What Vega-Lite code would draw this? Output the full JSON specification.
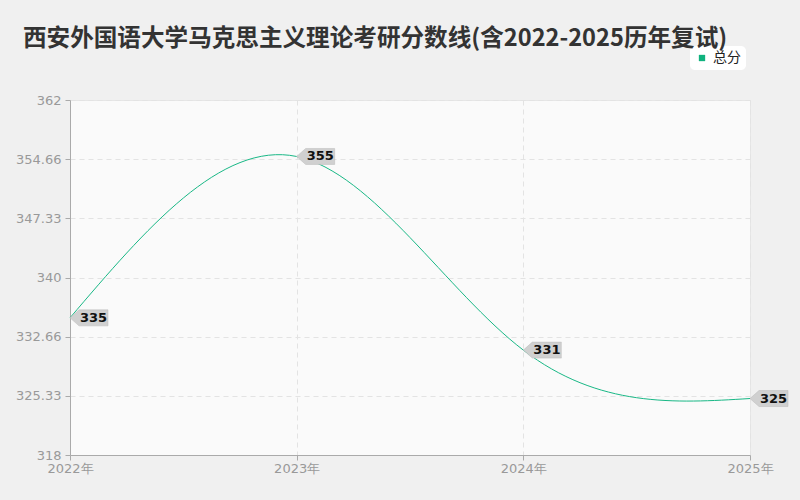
{
  "$schema": "https://vega.github.io/schema/vega-lite/v6.json",
  "width": 680,
  "height": 355,
  "autosize": {"type": "none"},
  "padding": {"left": 70, "top": 100, "right": 50, "bottom": 45},
  "background": "#f0f0f0",
  "title": {
    "text": "西安外国语大学马克思主义理论考研分数线(含2022-2025历年复试)",
    "anchor": "start",
    "frame": "group",
    "dx": -47,
    "offset": -5,
    "font": "Noto Sans CJK SC",
    "fontSize": 23.6,
    "fontWeight": "bold",
    "color": "#333333"
  },
  "config": {
    "view": {"fill": "#fafafa", "stroke": "#e6e6e6"},
    "font": "DejaVu Sans"
  },
  "data": {
    "values": [
      {"year": 2022, "score": 335, "series": "总分"},
      {"year": 2023, "score": 355, "series": "总分"},
      {"year": 2024, "score": 331, "series": "总分"},
      {"year": 2025, "score": 325, "series": "总分"}
    ]
  },
  "encoding": {
    "x": {
      "field": "year",
      "type": "quantitative",
      "scale": {"domain": [2022, 2025], "nice": false, "zero": false},
      "axis": {
        "title": null,
        "values": [2022, 2023, 2024, 2025],
        "labelExpr": "datum.value + '年'",
        "labelColor": "#999999",
        "labelFontSize": 13,
        "labelPadding": 2,
        "labelFlush": false,
        "domainColor": "#aaaaaa",
        "tickColor": "#aaaaaa",
        "tickSize": 5,
        "grid": true,
        "gridColor": "#e3e3e3",
        "gridDash": [5, 4]
      }
    },
    "y": {
      "field": "score",
      "type": "quantitative",
      "scale": {"domain": [318, 362], "nice": false, "zero": false},
      "axis": {
        "title": null,
        "values": [318, 325.33, 332.66, 340, 347.33, 354.66, 362],
        "format": ".2~f",
        "labelColor": "#999999",
        "labelFontSize": 13,
        "labelPadding": 4,
        "domainColor": "#aaaaaa",
        "tickColor": "#aaaaaa",
        "tickSize": 5,
        "grid": true,
        "gridColor": "#e3e3e3",
        "gridDash": [5, 4]
      }
    }
  },
  "layer": [
    {
      "mark": {"type": "line", "interpolate": "natural", "strokeWidth": 1},
      "encoding": {
        "color": {
          "field": "series",
          "type": "nominal",
          "scale": {"domain": ["总分"], "range": ["#19b886"]},
          "legend": {
            "title": null,
            "orient": "none",
            "legendX": 620,
            "legendY": -54,
            "symbolType": "square",
            "symbolSize": 40,
            "symbolFillColor": "#0fb27e",
            "symbolStrokeWidth": 0,
            "labelFont": "Noto Sans CJK SC",
            "labelFontSize": 14,
            "labelColor": "#222222",
            "fillColor": "#ffffff",
            "cornerRadius": 5,
            "padding": 5
          }
        }
      }
    },
    {
      "mark": {
        "type": "point",
        "shape": "M0,0L0.9,-0.8L3.8,-0.8L3.8,0.8L0.9,0.8Z",
        "size": 400,
        "filled": true,
        "fill": "#d0d0d0",
        "stroke": "#bbbbbb",
        "strokeWidth": 0.5,
        "opacity": 1
      }
    },
    {
      "mark": {
        "type": "text",
        "align": "left",
        "baseline": "middle",
        "dx": 10,
        "fontSize": 13,
        "fontWeight": "bold",
        "color": "#111111"
      },
      "encoding": {"text": {"field": "score", "type": "quantitative"}}
    }
  ]
}
